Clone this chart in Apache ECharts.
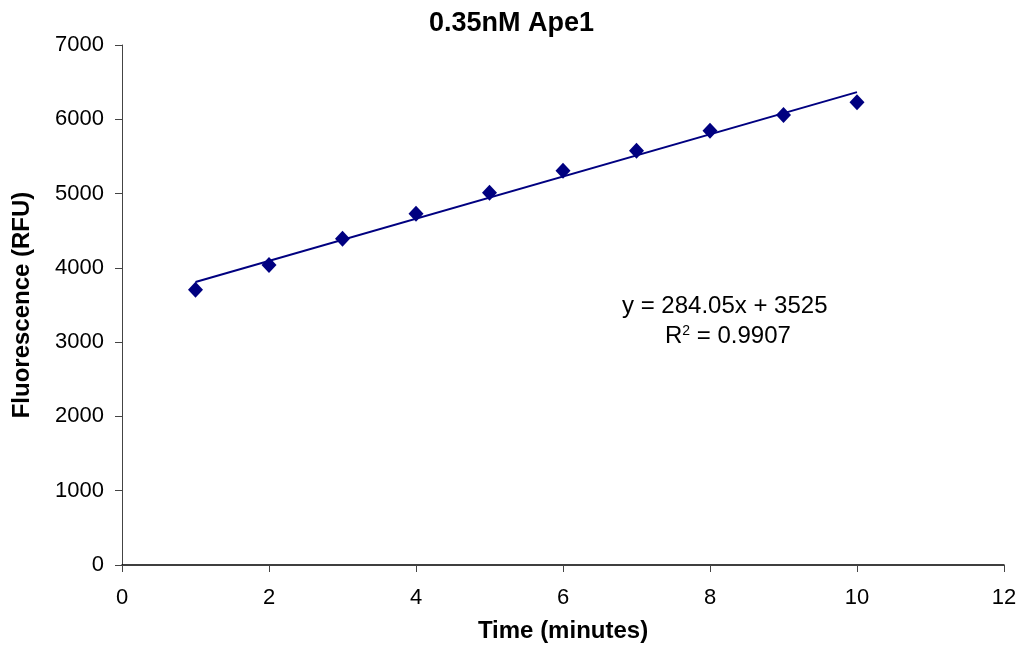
<!DOCTYPE html>
<html>
<head>
<meta charset="utf-8">
<script src="https://cdn.jsdelivr.net/npm/echarts@6/dist/echarts.min.js"></script>
<style>html,body{margin:0;padding:0;background:#fff}#c{width:1023px;height:648px}</style>
</head>
<body>
<div id="c"></div>
<script>
const timeMinutes = [1, 2, 3, 4, 5, 6, 7, 8, 9, 10];
const fluorescence = [3705, 4037, 4391, 4727, 5010, 5306, 5578, 5847, 6058, 6229];
const trendSlope = 284.05;
const trendIntercept = 3525;
const trendX = [1, 10];
const equationText = 'y = 284.05x + 3525';
const r2Text = '0.9907';
const chartTitle = '0.35nM Ape1';
const xName = 'Time (minutes)';
const yName = 'Fluorescence (RFU)';

const font = '"Liberation Sans", Arial, sans-serif';
const navy = '#000080';
const chart = echarts.init(document.getElementById('c'));
chart.setOption({
  animation: false,
  backgroundColor: '#fff',
  title: {
    text: chartTitle, left: 'center', top: 5,
    textStyle: { fontFamily: font, fontSize: 27, fontWeight: 'bold', color: '#000' }
  },
  grid: { left: 122, right: 19, top: 45, bottom: 83, containLabel: false },
  xAxis: {
    type: 'value', min: 0, max: 12, interval: 2,
    name: xName, nameLocation: 'middle', nameGap: 54,
    nameTextStyle: { fontFamily: font, fontSize: 24, fontWeight: 'bold', color: '#000' },
    axisLine: { show: true, onZero: false, lineStyle: { color: '#000', width: 1.5 } },
    axisTick: { show: true, inside: false, length: 7, lineStyle: { color: '#444' } },
    axisLabel: { margin: 22, fontFamily: font, fontSize: 22, color: '#000' },
    splitLine: { show: false }
  },
  yAxis: {
    type: 'value', min: 0, max: 7000, interval: 1000,
    name: yName, nameLocation: 'middle', nameGap: 88, nameRotate: 90,
    nameTextStyle: { fontFamily: font, fontSize: 24, fontWeight: 'bold', color: '#000' },
    axisLine: { show: true, lineStyle: { color: '#444', width: 1 } },
    axisTick: { show: true, inside: false, length: 7, lineStyle: { color: '#444' } },
    axisLabel: { margin: 18, fontFamily: font, fontSize: 22, color: '#000', formatter: v => String(v) },
    splitLine: { show: false }
  },
  series: [
    {
      type: 'line',
      data: trendX.map(x => [x, trendSlope * x + trendIntercept]),
      symbol: 'none',
      lineStyle: { color: navy, width: 2 },
      z: 2
    },
    {
      type: 'scatter',
      data: timeMinutes.map((t, i) => [t, fluorescence[i]]),
      symbol: 'diamond',
      symbolSize: [15, 16],
      itemStyle: { color: navy, opacity: 1 },
      z: 3
    }
  ],
  graphic: [
    {
      type: 'text', left: 622, top: 294,
      style: { text: equationText, font: '24px ' + font, fill: '#000' }
    },
    {
      type: 'text', left: 665, top: 324,
      style: {
        text: '{a|R}{s|2}{a| = ' + r2Text + '}',
        rich: {
          a: { fontFamily: font, fontSize: 24, fill: '#000', verticalAlign: 'bottom' },
          s: { fontFamily: font, fontSize: 14, fill: '#000', verticalAlign: 'top', padding: [0, 0, 10, 0] }
        }
      }
    }
  ]
});
</script>
</body>
</html>
